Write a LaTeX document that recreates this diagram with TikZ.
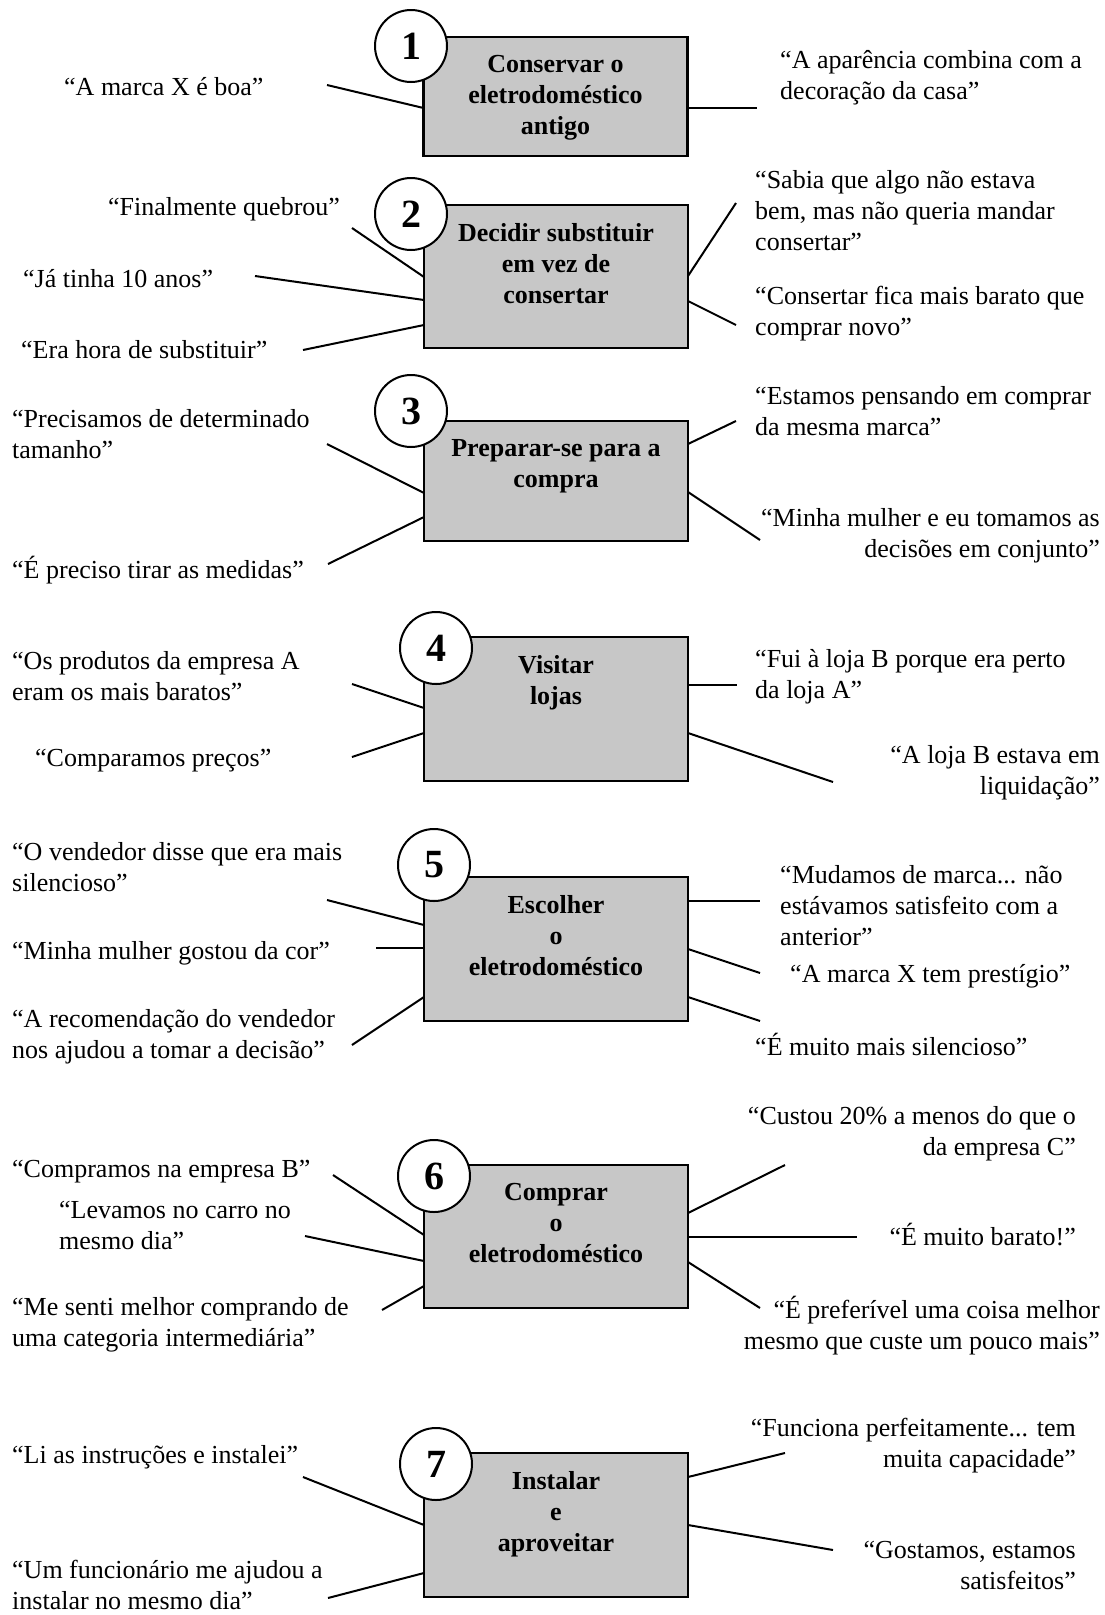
\documentclass[tikz,border=0pt]{standalone}
\usepackage{fontspec}
\setmainfont{Liberation Serif}
\usetikzlibrary{positioning}

\tikzset{
	stage/.style={draw, line width=2.4pt, fill=black!22, outer sep=0pt, minimum width=264pt},
	stagetitle/.style={inner sep=0pt, align=center, font=\bfseries\fontsize{26}{31}\selectfont, execute at begin node=\strut},
	num/.style={circle, draw, line width=2pt, fill=white, minimum size=72pt, inner sep=0pt, font=\bfseries\fontsize{40}{40}\selectfont},
	quoteL/.style={inner sep=0pt, anchor=north west, align=left, font=\fontsize{26}{31}\selectfont, execute at begin node=\strut},
	quoteR/.style={inner sep=0pt, anchor=north east, align=right, font=\fontsize{26}{31}\selectfont, execute at begin node=\strut},
	link/.style={line width=2pt}
}

\begin{document}
\begin{tikzpicture}[x=1pt, y=-1pt]
\useasboundingbox (0,0) rectangle (1104,1615);

	\node[stage, minimum height=119pt] (b1) at (555.5,96.5) {};
	\node[stage, minimum height=143pt] (b2) at (556,276.5) {};
	\node[stage, minimum height=120pt] (b3) at (556,481) {};
	\node[stage, minimum height=144pt] (b4) at (556,709) {};
	\node[stage, minimum height=144pt] (b5) at (556,949) {};
	\node[stage, minimum height=143pt] (b6) at (556,1236.5) {};
	\node[stage, minimum height=144pt] (b7) at (556,1525) {};

	\node[stagetitle, below=18pt of b1.north] (t1) {Conservar o\\eletrodoméstico\\antigo};
	\node[stagetitle, below=18pt of b2.north] (t2) {Decidir substituir\\em vez de\\consertar};
	\node[stagetitle, below=18pt of b3.north] (t3) {Preparar-se para a\\compra};
	\node[stagetitle, below=18pt of b4.north] (t4) {Visitar\\lojas};
	\node[stagetitle, below=18pt of b5.north] (t5) {Escolher\\o\\eletrodoméstico};
	\node[stagetitle, below=18pt of b6.north] (t6) {Comprar\\o\\eletrodoméstico};
	\node[stagetitle, below=18pt of b7.north] (t7) {Instalar\\e\\aproveitar};

	\node[num] (n1) at (411,46) {1};
	\node[num] (n2) at (411,214) {2};
	\node[num] (n3) at (411,411) {3};
	\node[num] (n4) at (436,648) {4};
	\node[num] (n5) at (434,865) {5};
	\node[num] (n6) at (434,1176) {6};
	\node[num] (n7) at (436,1464) {7};

	\node[quoteL] (q11) at (64,74) {“A marca X é boa”};
	\node[quoteL] (q12) at (780,50) {“A aparência combina com a\\decoração da casa”};
	\coordinate (e11) at (327,85);
	\coordinate (e12) at (757,108);
	\draw[link] (e11) -- ([yshift=-71pt]b1.north west);
	\draw[link] ([yshift=-71pt]b1.north east) -- (e12);

	\node[quoteL] (q21) at (108,194) {“Finalmente quebrou”};
	\node[quoteL] (q22) at (23,266) {“Já tinha 10 anos”};
	\node[quoteL] (q23) at (21,337) {“Era hora de substituir”};
	\node[quoteL] (q24) at (755,170) {“Sabia que algo não estava\\bem, mas não queria mandar\\consertar”};
	\node[quoteL] (q25) at (755,286) {“Consertar fica mais barato que\\comprar novo”};
	\coordinate (e21) at (352,228);
	\coordinate (e22) at (255,276);
	\coordinate (e23) at (303,350);
	\coordinate (e24) at (736,203);
	\coordinate (e25) at (736,325);
	\draw[link] (e21) -- ([yshift=-72pt]b2.north west);
	\draw[link] (e22) -- ([yshift=-95pt]b2.north west);
	\draw[link] (e23) -- ([yshift=-120pt]b2.north west);
	\draw[link] ([yshift=-71pt]b2.north east) -- (e24);
	\draw[link] ([yshift=-96pt]b2.north east) -- (e25);

	\node[quoteL] (q31) at (12,409) {“Precisamos de determinado\\tamanho”};
	\node[quoteL] (q32) at (12,556) {“É preciso tirar as medidas”};
	\node[quoteL] (q33) at (755,386) {“Estamos pensando em comprar\\da mesma marca”};
	\node[quoteR] (q34) at (1100,508) {“Minha mulher e eu tomamos as\\decisões em conjunto”};
	\coordinate (e31) at (327,444);
	\coordinate (e32) at (328,564);
	\coordinate (e33) at (736,421);
	\coordinate (e34) at (760,540);
	\draw[link] (e31) -- ([yshift=-72pt]b3.north west);
	\draw[link] (e32) -- ([yshift=-96pt]b3.north west);
	\draw[link] ([yshift=-23pt]b3.north east) -- (e33);
	\draw[link] ([yshift=-71pt]b3.north east) -- (e34);

	\node[quoteL] (q41) at (12,651) {“Os produtos da empresa A\\eram os mais baratos”};
	\node[quoteL] (q42) at (35,745) {“Comparamos preços”};
	\node[quoteL] (q43) at (755,649) {“Fui à loja B porque era perto\\da loja A”};
	\node[quoteR] (q44) at (1100,745) {“A loja B estava em\\liquidação”};
	\coordinate (e41) at (352,684);
	\coordinate (e42) at (352,757);
	\coordinate (e43) at (737,685);
	\coordinate (e44) at (833,782);
	\draw[link] (e41) -- ([yshift=-71pt]b4.north west);
	\draw[link] (e42) -- ([yshift=-96pt]b4.north west);
	\draw[link] ([yshift=-48pt]b4.north east) -- (e43);
	\draw[link] ([yshift=-96pt]b4.north east) -- (e44);

	\node[quoteL] (q51) at (12,842) {“O vendedor disse que era mais\\silencioso”};
	\node[quoteL] (q52) at (12,938) {“Minha mulher gostou da cor”};
	\node[quoteL] (q53) at (12,1009) {“A recomendação do vendedor\\nos ajudou a tomar a decisão”};
	\node[quoteL] (q54) at (780,865) {“Mudamos de marca... não\\estávamos satisfeito com a\\anterior”};
	\node[quoteL] (q55) at (790,961) {“A marca X tem prestígio”};
	\node[quoteL] (q56) at (755,1033) {“É muito mais silencioso”};
	\coordinate (e51) at (327,900);
	\coordinate (e52) at (376,948);
	\coordinate (e53) at (352,1045);
	\coordinate (e54) at (760,901);
	\coordinate (e55) at (760,973);
	\coordinate (e56) at (760,1021);
	\draw[link] (e51) -- ([yshift=-48pt]b5.north west);
	\draw[link] (e52) -- ([yshift=-71pt]b5.north west);
	\draw[link] (e53) -- ([yshift=-120pt]b5.north west);
	\draw[link] ([yshift=-24pt]b5.north east) -- (e54);
	\draw[link] ([yshift=-72pt]b5.north east) -- (e55);
	\draw[link] ([yshift=-120pt]b5.north east) -- (e56);

	\node[quoteL] (q61) at (12,1156) {“Compramos na empresa B”};
	\node[quoteL] (q62) at (59,1201) {“Levamos no carro no\\mesmo dia”};
	\node[quoteL] (q63) at (12,1297) {“Me senti melhor comprando de\\uma categoria intermediária”};
	\node[quoteR] (q64) at (1076,1106) {“Custou 20\% a menos do que o\\da empresa C”};
	\node[quoteR] (q65) at (1076,1223) {“É muito barato!”};
	\node[quoteR] (q66) at (1100,1296) {“É preferível uma coisa melhor\\mesmo que custe um pouco mais”};
	\coordinate (e61) at (333,1175);
	\coordinate (e62) at (305,1236);
	\coordinate (e63) at (382,1310);
	\coordinate (e64) at (785,1165);
	\coordinate (e65) at (857,1237);
	\coordinate (e66) at (760,1308);
	\draw[link] (e61) -- ([yshift=-70pt]b6.north west);
	\draw[link] (e62) -- ([yshift=-96pt]b6.north west);
	\draw[link] (e63) -- ([yshift=-121pt]b6.north west);
	\draw[link] ([yshift=-48pt]b6.north east) -- (e64);
	\draw[link] ([yshift=-72pt]b6.north east) -- (e65);
	\draw[link] ([yshift=-97pt]b6.north east) -- (e66);

	\node[quoteL] (q71) at (12,1442) {“Li as instruções e instalei”};
	\node[quoteL] (q72) at (12,1560) {“Um funcionário me ajudou a\\instalar no mesmo dia”};
	\node[quoteR] (q73) at (1076,1418) {“Funciona perfeitamente... tem\\muita capacidade”};
	\node[quoteR] (q74) at (1076,1541) {“Gostamos, estamos\\satisfeitos”};
	\coordinate (e71) at (303,1477);
	\coordinate (e72) at (328,1598);
	\coordinate (e73) at (785,1453);
	\coordinate (e74) at (833,1550);
	\draw[link] (e71) -- ([yshift=-72pt]b7.north west);
	\draw[link] (e72) -- ([yshift=-120pt]b7.north west);
	\draw[link] ([yshift=-24pt]b7.north east) -- (e73);
	\draw[link] ([yshift=-72pt]b7.north east) -- (e74);
\end{tikzpicture}
\end{document}
